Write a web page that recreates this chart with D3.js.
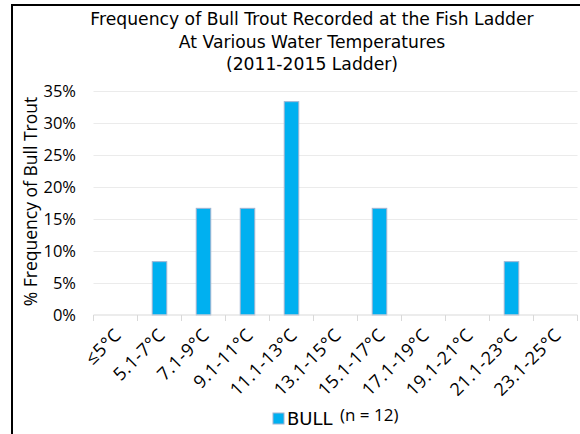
<!DOCTYPE html>
<html>
<head>
<meta charset="utf-8">
<script src="https://cdn.jsdelivr.net/npm/d3@7"></script>
<style>
  body { margin: 0; background: #fff; }
</style>
</head>
<body>
<div id="chart"></div>
<script>
// Data (n = 12 fish)
const categories = ["≤5°C", "5.1-7°C", "7.1-9°C", "9.1-11°C", "11.1-13°C", "13.1-15°C",
  "15.1-17°C", "17.1-19°C", "19.1-21°C", "21.1-23°C", "23.1-25°C"];
const bullValues = [0, 1 / 12, 2 / 12, 2 / 12, 4 / 12, 0, 2 / 12, 0, 0, 1 / 12, 0];
const yTicks = [0, 0.05, 0.10, 0.15, 0.20, 0.25, 0.30, 0.35];
const titleLines = ["Frequency of Bull Trout Recorded at the Fish Ladder",
  "At Various Water Temperatures", "(2011-2015 Ladder)"];

const chart = (() => {
  // Figure
  const width = 580;
  const height = 434;
  const marginTop = 91;
  const marginBottom = 119;
  const marginLeft = 93.5;
  const marginRight = 2.5;

  const svg = d3.create("svg")
      .attr("width", width)
      .attr("height", height)
      .attr("viewBox", [0, 0, width, height]);

  svg.append("rect")
      .attr("width", width).attr("height", height)
      .attr("fill", "#fff");

  // Frame (only left and top edges fall inside the picture)
  svg.append("rect")
      .attr("x", 12).attr("y", 5)
      .attr("width", 700).attr("height", 600)
      .attr("fill", "none")
      .attr("stroke", "#000")
      .attr("stroke-width", 2);

  // Title
  svg.append("g")
      .attr("font-family", "'DejaVu Sans', sans-serif")
      .attr("font-size", 17.2)
      .attr("fill", "#000")
      .attr("text-anchor", "middle")
    .selectAll("text")
    .data(titleLines)
    .join("text")
      .attr("x", 312)
      .attr("y", (d, i) => 25 + i * 22.5)
      .text(d => d);

  // X values
  const x = d3.scaleBand()
      .domain(categories)
      .range([marginLeft, width - marginRight])
      .padding(0);

  // Y values
  const y = d3.scaleLinear()
      .domain([0, 0.35])
      .range([height - marginBottom, marginTop]);

  // Gridlines
  svg.append("g")
      .attr("transform", `translate(${marginLeft},0)`)
      .call(d3.axisLeft(y).tickValues(yTicks.slice(1)).tickSize(-(width - marginRight - marginLeft)).tickFormat(""))
      .call(g => g.select(".domain").remove())
      .call(g => g.selectAll("line").attr("stroke", "#ebebeb"));

  // Bars
  const bw = x.bandwidth() * 0.33;
  svg.append("g")
    .selectAll("rect")
    .data(categories.map((c, i) => ({ cat: c, value: bullValues[i] })).filter(d => d.value > 0))
    .join("rect")
      .attr("x", d => x(d.cat) + (x.bandwidth() - bw) / 2)
      .attr("y", d => y(d.value))
      .attr("width", bw)
      .attr("height", d => y(0) - y(d.value))
      .attr("fill", "#00b0f0")
      .attr("stroke", "#9fb4d2")
      .attr("stroke-width", 1);

  // X-axis line and boundary ticks
  const xAxis = svg.append("g")
      .attr("transform", `translate(0,${y(0)})`);
  xAxis.append("line")
      .attr("x1", marginLeft).attr("x2", width - marginRight)
      .attr("stroke", "#d9d9d9");
  xAxis.selectAll(".bound")
    .data(categories.map(c => x(c)).concat([x.range()[1]]))
    .join("line")
      .attr("class", "bound")
      .attr("x1", d => d).attr("x2", d => d)
      .attr("y1", 0).attr("y2", 6)
      .attr("stroke", "#d9d9d9");

  // X labels, rotated
  xAxis.selectAll(".lbl")
    .data(categories)
    .join("text")
      .attr("class", "lbl")
      .attr("font-family", "'Open Sans', sans-serif")
      .attr("font-size", 18)
      .attr("letter-spacing", 0.6)
      .attr("fill", "#000")
      .attr("text-anchor", "end")
      .attr("transform", d => `translate(${x(d) + x.bandwidth() / 2 + 7},${21}) rotate(-45)`)
      .text(d => d);

  // Y-axis labels
  const yAxis = svg.append("g")
      .attr("transform", `translate(${marginLeft},0)`)
      .call(d3.axisLeft(y).tickValues(yTicks).tickSize(0).tickPadding(17.5).tickFormat(d3.format(".0%")));
  yAxis.select(".domain").remove();
  yAxis.selectAll("text")
      .attr("font-family", "'Open Sans', sans-serif")
      .attr("font-size", 16.5)
      .attr("fill", "#000");

  // Y-axis title
  svg.append("text")
      .attr("transform", "translate(37,201.5) rotate(-90)")
      .attr("text-anchor", "middle")
      .attr("font-family", "'Open Sans', sans-serif")
      .attr("font-size", 17.5)
      .attr("fill", "#000")
      .text("% Frequency of Bull Trout");

  // Legend
  const legend = svg.append("g");
  legend.append("rect")
      .attr("x", 273).attr("y", 413)
      .attr("width", 11).attr("height", 11)
      .attr("fill", "#00b0f0")
      .attr("stroke", "#9fb4d2");
  legend.append("text")
      .attr("x", 287).attr("y", 425)
      .attr("font-family", "'DejaVu Sans', sans-serif")
      .attr("font-size", 18)
      .attr("fill", "#000")
      .text("BULL");
  legend.append("text")
      .attr("x", 340).attr("y", 421)
      .attr("font-family", "'Open Sans', sans-serif")
      .attr("font-size", 17)
      .attr("fill", "#000")
      .text("(n = 12)");

  document.getElementById("chart").appendChild(svg.node());
})();
</script>
</body>
</html>
